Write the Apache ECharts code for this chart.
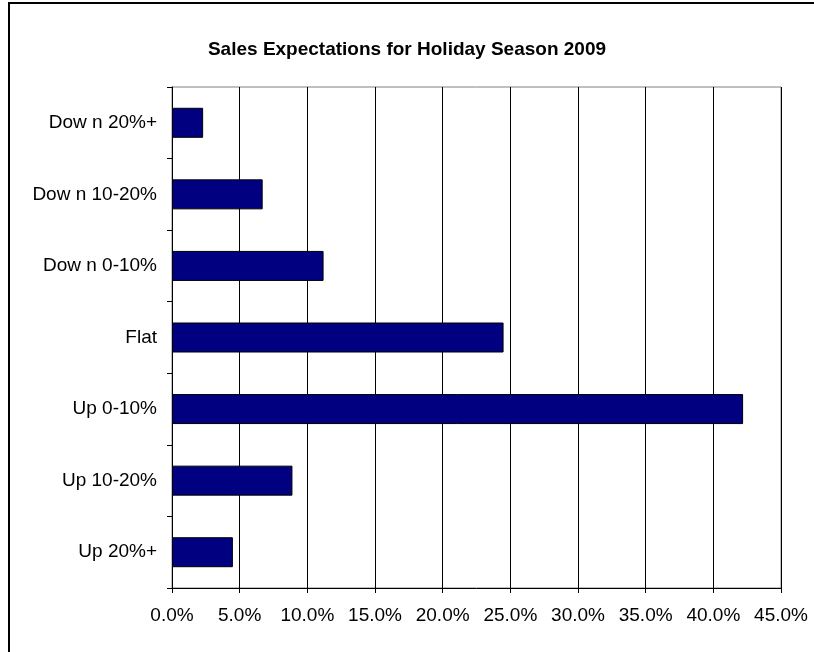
<!DOCTYPE html>
<html>
<head>
<meta charset="utf-8">
<script src="https://cdn.jsdelivr.net/npm/echarts@6/dist/echarts.min.js"></script>
<style>
html,body{margin:0;padding:0;background:#fff;}
#chart{width:814px;height:652px;}
</style>
</head>
<body>
<div id="chart"></div>
<script>
var titleText = 'Sales Expectations for Holiday Season 2009';
var categories = ['Dow n 20%+', 'Dow n 10-20%', 'Dow n 0-10%', 'Flat', 'Up 0-10%', 'Up 10-20%', 'Up 20%+'];
var values = [2.3, 6.7, 11.2, 24.5, 42.2, 8.9, 4.5];
var xMin = 0, xMax = 45, xStep = 5;

var chart = echarts.init(document.getElementById('chart'), null, {renderer: 'canvas'});
chart.setOption({
  backgroundColor: '#ffffff',
  animation: false,
  title: {
    text: titleText,
    left: 'center',
    top: 35,
    textStyle: {fontFamily: 'Liberation Sans, Arial, sans-serif', fontWeight: 'bold', fontSize: 19, color: '#000'}
  },
  graphic: [{
    type: 'rect',
    shape: {x: 9, y: 3, width: 900, height: 900},
    style: {fill: 'none', stroke: '#000', lineWidth: 2},
    silent: true
  }],
  grid: {
    left: 172, right: 33, top: 87, bottom: 64,
    show: true, borderColor: '#808080', borderWidth: 1, backgroundColor: 'transparent'
  },
  xAxis: {
    type: 'value',
    min: xMin, max: xMax, interval: xStep,
    axisLine: {show: true, lineStyle: {color: '#000', width: 1}},
    axisTick: {show: true, length: 5, lineStyle: {color: '#000'}},
    splitLine: {show: true, lineStyle: {color: '#000', width: 1}},
    axisLabel: {
      margin: 18,
      fontFamily: 'Liberation Sans, Arial, sans-serif', fontSize: 19, color: '#000',
      formatter: function (v) { return v.toFixed(1) + '%'; }
    }
  },
  yAxis: {
    type: 'category',
    data: categories,
    inverse: true,
    axisLine: {show: true, lineStyle: {color: '#000', width: 1}},
    axisTick: {show: true, length: 5, lineStyle: {color: '#000'}},
    splitLine: {show: false},
    axisLabel: {
      margin: 15,
      fontFamily: 'Liberation Sans, Arial, sans-serif', fontSize: 19, color: '#000'
    }
  },
  series: [{
    type: 'bar',
    data: values,
    barWidth: 30,
    itemStyle: {color: '#000080', borderColor: '#000', borderWidth: 1}
  }]
});
</script>
</body>
</html>
